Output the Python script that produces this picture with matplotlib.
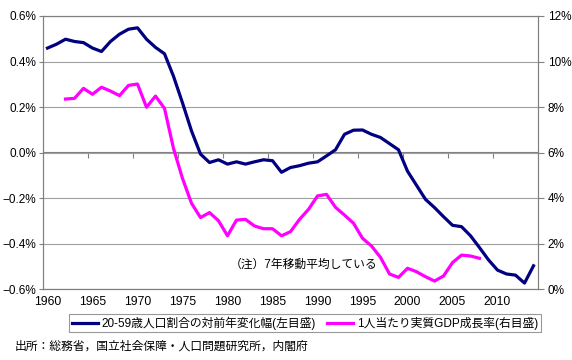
import numpy as np
import matplotlib
matplotlib.use('Agg')
import matplotlib.pyplot as plt
from matplotlib.ticker import PercentFormatter

plt.rcParams['font.family'] = ['Liberation Sans', 'Noto Sans CJK JP', 'DejaVu Sans']

# 20-59歳人口割合の対前年変化幅 (左目盛, %)
years_pop = np.arange(1960, 2015)
pop_change = [0.459, 0.476, 0.498, 0.488, 0.483, 0.459, 0.444, 0.488, 0.520, 0.542,
              0.548, 0.498, 0.462, 0.434, 0.335, 0.218, 0.095, -0.007, -0.044, -0.032,
              -0.051, -0.041, -0.051, -0.041, -0.032, -0.036, -0.087, -0.066, -0.058, -0.047,
              -0.041, -0.015, 0.012, 0.080, 0.098, 0.099, 0.080, 0.066, 0.039, 0.012,
              -0.082, -0.144, -0.206, -0.242, -0.282, -0.320, -0.326, -0.366, -0.418, -0.472,
              -0.517, -0.534, -0.539, -0.574, -0.498]

# 1人当たり実質GDP成長率 (右目盛, %)
years_gdp = np.arange(1962, 2009)
gdp_growth = [8.35, 8.38, 8.82, 8.56, 8.87, 8.70, 8.50, 8.95, 9.01, 7.99,
              8.48, 7.94, 6.18, 4.86, 3.77, 3.14, 3.36, 3.00, 2.34, 3.03,
              3.06, 2.77, 2.65, 2.65, 2.34, 2.52, 3.06, 3.50, 4.09, 4.16,
              3.59, 3.25, 2.89, 2.23, 1.89, 1.39, 0.66, 0.51, 0.91, 0.76,
              0.54, 0.35, 0.57, 1.16, 1.49, 1.45, 1.35]

label_years = np.arange(1960, 2015, 5)

fig = plt.figure(figsize=(5.72, 3.6), dpi=100)
ax = fig.add_axes([43 / 572, 1 - 289 / 360, 495 / 572, 273 / 360])
ax2 = ax.twinx()

l1, = ax.plot(years_pop, pop_change, color='#000080', lw=2.3,
              label='20-59歳人口割合の対前年変化幅(左目盛)')
l2, = ax2.plot(years_gdp, gdp_growth, color='#ff00ff', lw=2.3,
               label='1人当たり実質GDP成長率(右目盛)')

ax.set_xlim(1959.5, 2014.5)
ax.set_ylim(-0.6, 0.6)
ax.set_yticks(np.arange(-0.6, 0.61, 0.2))
ax.yaxis.set_major_formatter(PercentFormatter(xmax=100, decimals=1))
ax2.set_ylim(0, 12)
ax2.set_yticks(np.arange(0, 13, 2))
ax2.yaxis.set_major_formatter(PercentFormatter(xmax=100, decimals=0))

ax.set_xticks(label_years)
ax.tick_params(axis='x', length=0, pad=5, labelsize=8.8)
ax.tick_params(axis='y', length=3, width=0.8, color='#808080', labelsize=8.5, pad=2)
ax2.tick_params(axis='y', length=4, width=0.8, color='#808080', labelsize=8.5, pad=3)
ax.grid(axis='y', color='#a0a0a0', lw=0.8)
ax.set_axisbelow(True)

for a in (ax, ax2):
    for s in a.spines.values():
        s.set_color('#808080')
        s.set_linewidth(0.8)

# 横軸 (0% の位置)
sec = ax.secondary_xaxis(0.5)
sec.set_xticks([])
sec.set_xticks(label_years[1:] - 0.5, minor=True)
sec.tick_params(axis='x', which='minor', direction='in', length=4, width=0.8,
                color='#808080', labelbottom=False)
for s in sec.spines.values():
    s.set_color('#808080')
    s.set_linewidth(0.8)

ax.text(0.378, 0.088, '（注）7年移動平均している', transform=ax.transAxes,
        fontsize=8.5, va='center', ha='left')

leg = fig.legend(handles=[l1, l2], loc='center', bbox_to_anchor=(305 / 572, 1 - 323 / 360),
                 ncol=2, fontsize=8.5, frameon=True, fancybox=False, edgecolor='#808080',
                 handlelength=2.2, handletextpad=0.3, columnspacing=1.0, borderpad=0.2,
                 borderaxespad=0)
leg.get_frame().set_linewidth(0.8)

fig.text(15 / 572, 1 - 347 / 360, '出所：総務省，国立社会保障・人口問題研究所，内閣府',
         fontsize=8.5, va='center', ha='left')

fig.savefig('out.png', dpi=100)
